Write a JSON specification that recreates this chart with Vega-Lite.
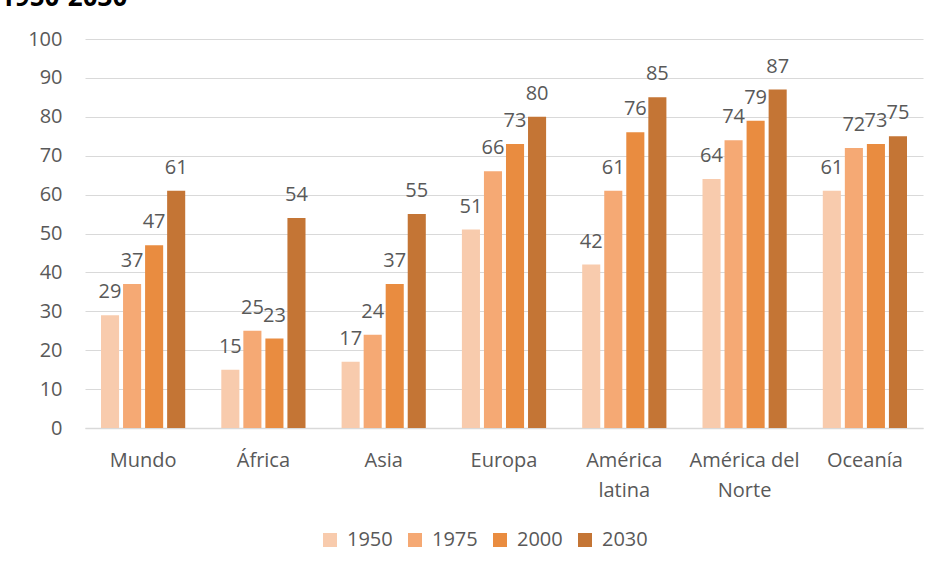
{
  "$schema": "https://vega.github.io/schema/vega-lite/v6.json",
  "width": 838,
  "height": 389,
  "autosize": {"type": "none"},
  "padding": {"left": 85, "top": 39, "right": 21, "bottom": 144},
  "background": "white",
  "config": {"view": {"stroke": null}, "font": "Open Sans"},
  "title": {"text": "1950-2030", "anchor": "start", "frame": "group", "fontSize": 26, "fontWeight": "bold", "color": "#000000", "baseline": "alphabetic", "offset": 18, "dx": -85, "dy": 21},
  "data": {
    "values": [
      {"region": "Mundo", "year": "1950", "value": 29},
      {"region": "Mundo", "year": "1975", "value": 37},
      {"region": "Mundo", "year": "2000", "value": 47},
      {"region": "Mundo", "year": "2030", "value": 61},
      {"region": "África", "year": "1950", "value": 15},
      {"region": "África", "year": "1975", "value": 25},
      {"region": "África", "year": "2000", "value": 23},
      {"region": "África", "year": "2030", "value": 54},
      {"region": "Asia", "year": "1950", "value": 17},
      {"region": "Asia", "year": "1975", "value": 24},
      {"region": "Asia", "year": "2000", "value": 37},
      {"region": "Asia", "year": "2030", "value": 55},
      {"region": "Europa", "year": "1950", "value": 51},
      {"region": "Europa", "year": "1975", "value": 66},
      {"region": "Europa", "year": "2000", "value": 73},
      {"region": "Europa", "year": "2030", "value": 80},
      {"region": "América latina", "year": "1950", "value": 42},
      {"region": "América latina", "year": "1975", "value": 61},
      {"region": "América latina", "year": "2000", "value": 76},
      {"region": "América latina", "year": "2030", "value": 85},
      {"region": "América del Norte", "year": "1950", "value": 64},
      {"region": "América del Norte", "year": "1975", "value": 74},
      {"region": "América del Norte", "year": "2000", "value": 79},
      {"region": "América del Norte", "year": "2030", "value": 87},
      {"region": "Oceanía", "year": "1950", "value": 61},
      {"region": "Oceanía", "year": "1975", "value": 72},
      {"region": "Oceanía", "year": "2000", "value": 73},
      {"region": "Oceanía", "year": "2030", "value": 75}
    ]
  },
  "encoding": {
    "x": {
      "field": "region",
      "type": "nominal",
      "sort": ["Mundo", "África", "Asia", "Europa", "América latina", "América del Norte", "Oceanía"],
      "scale": {"paddingInner": 0.3, "paddingOuter": 0.133},
      "axis": {
        "title": null,
        "labelAngle": 0,
        "labelFontSize": 20,
        "labelColor": "#595959",
        "labelPadding": 22,
        "labelLineHeight": 30,
        "ticks": false,
        "domain": true,
        "domainColor": "#D9D9D9",
        "domainWidth": 1.5,
        "labelExpr": "datum.value == 'América latina' ? ['América', 'latina'] : datum.value == 'América del Norte' ? ['América del', 'Norte'] : datum.label"
      }
    },
    "xOffset": {"field": "year", "type": "nominal", "scale": {"paddingInner": 0.18, "paddingOuter": 0}},
    "y": {
      "field": "value",
      "type": "quantitative",
      "scale": {"domain": [0, 100]},
      "axis": {
        "title": null,
        "values": [0, 10, 20, 30, 40, 50, 60, 70, 80, 90, 100],
        "grid": true,
        "gridColor": "#D9D9D9",
        "domain": false,
        "ticks": false,
        "labelFontSize": 20,
        "labelColor": "#595959",
        "labelPadding": 23
      }
    }
  },
  "layer": [
    {
      "mark": {"type": "bar"},
      "encoding": {
        "color": {
          "field": "year",
          "type": "nominal",
          "scale": {"domain": ["1950", "1975", "2000", "2030"], "range": ["#F8CBAD", "#F5A974", "#E98C40", "#C47535"]},
          "legend": {
            "title": null,
            "orient": "none",
            "direction": "horizontal",
            "legendX": 235,
            "legendY": 491,
            "symbolType": "square",
            "symbolSize": 196,
            "symbolStrokeWidth": 0,
            "labelFontSize": 20,
            "labelColor": "#595959",
            "labelOffset": 7,
            "columnPadding": 12
          }
        }
      }
    },
    {
      "mark": {"type": "text", "baseline": "alphabetic", "dy": -17, "fontSize": 20, "color": "#595959"},
      "encoding": {"text": {"field": "value", "type": "quantitative"}}
    }
  ]
}
